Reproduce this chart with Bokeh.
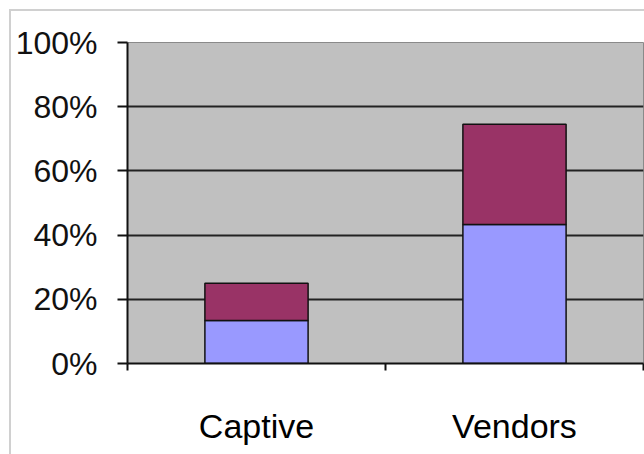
from bokeh.plotting import figure
from bokeh.models import Range1d, FixedTicker, NumeralTickFormatter, ColumnDataSource, InlineStyleSheet
from bokeh.embed import file_html
from bokeh.resources import INLINE

categories = ["Captive", "Vendors"]
lower_share = [0.134, 0.433]
upper_share = [0.116, 0.312]
y_ticks = [0.0, 0.2, 0.4, 0.6, 0.8, 1.0]

xpos = [i + 0.5 for i in range(len(categories))]
source = ColumnDataSource(dict(x=xpos, lower=lower_share, upper=upper_share))

p = figure(width=644, height=454, output_backend="svg", toolbar_location=None,
           x_range=Range1d(0, len(categories)), y_range=Range1d(0, 1),
           min_border_left=127, min_border_right=1, min_border_top=42, min_border_bottom=91)

p.background_fill_color = "#C0C0C0"
p.border_fill_color = "white"
p.outline_line_color = "#8a8a8a"
p.outline_line_width = 1

p.vbar_stack(["lower", "upper"], x="x", width=0.4, source=source,
             fill_color=["#9999FF", "#993366"], line_color="#111111", line_width=1.5)

xa = p.xaxis[0]
xa.ticker = FixedTicker(ticks=xpos, minor_ticks=list(range(len(categories) + 1)))
xa.major_label_overrides = {x: c for x, c in zip(xpos, categories)}
xa.major_tick_out = 0
xa.major_tick_in = 0
xa.minor_tick_out = 7
xa.minor_tick_in = 0
xa.minor_tick_line_color = "#111111"
xa.minor_tick_line_width = 2
xa.axis_line_color = "#111111"
xa.axis_line_width = 2
xa.major_label_standoff = 36
xa.major_label_text_font = "Liberation Sans"
xa.major_label_text_font_size = "34px"
xa.major_label_text_color = "#000000"

ya = p.yaxis[0]
ya.ticker = FixedTicker(ticks=y_ticks)
ya.formatter = NumeralTickFormatter(format="0%")
ya.major_tick_out = 10
ya.major_tick_in = 0
ya.minor_tick_line_color = None
ya.major_tick_line_color = "#111111"
ya.major_tick_line_width = 2
ya.axis_line_color = "#111111"
ya.axis_line_width = 2
ya.major_label_standoff = 20
ya.major_label_text_font = "Liberation Sans"
ya.major_label_text_font_size = "32px"
ya.major_label_text_color = "#111111"

p.xgrid.grid_line_color = None
p.ygrid.ticker = FixedTicker(ticks=y_ticks)
p.ygrid.grid_line_color = "#222222"
p.ygrid.grid_line_width = 2

border = InlineStyleSheet(css=""":host { position: relative; overflow: hidden; }
:host::after { content: ''; position: absolute; left: 9px; top: 9px; width: 2000px; height: 2000px;
  border: 2px solid #d0d0d0; pointer-events: none; }""")
p.stylesheets = [border]

open("out.html", "w").write(file_html(p, INLINE))
